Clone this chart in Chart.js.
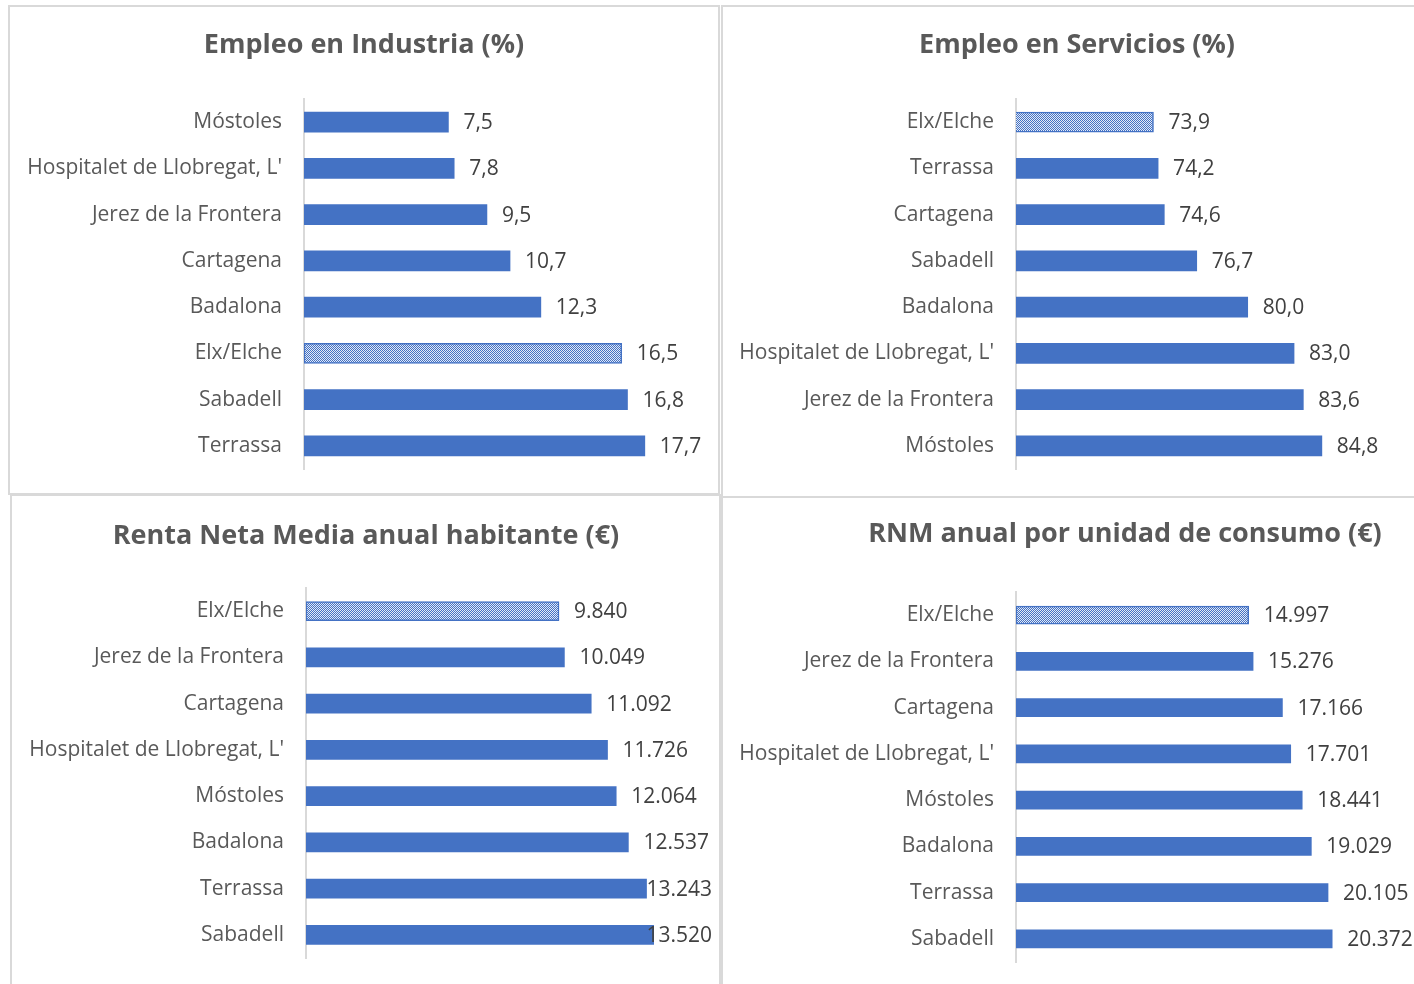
<!DOCTYPE html>
<html>
<head>
<meta charset="utf-8">
<script src="https://cdn.jsdelivr.net/npm/chart.js@4.4.0/dist/chart.umd.min.js"></script>
<style>
  html, body { margin: 0; padding: 0; background: #fff; width: 1414px; height: 984px; overflow: hidden; position: relative; }
  .marco { position: absolute; border: 2px solid #d9d9d9; box-sizing: border-box; }
  canvas { position: absolute; }
</style>
</head>
<body>
<div class="marco" style="left:8px; top:5px; width:712px; height:490px"></div>
<div class="marco" style="left:721px; top:5px; width:720px; height:493px"></div>
<div class="marco" style="left:10px; top:494px; width:711px; height:520px"></div>
<div class="marco" style="left:721px; top:496px; width:720px; height:520px"></div>

<canvas id="industria" width="708" height="484" style="left:10px; top:8px"></canvas>
<canvas id="servicios" width="706" height="484" style="left:724px; top:8px"></canvas>
<canvas id="renta" width="708" height="487" style="left:12px; top:497px"></canvas>
<canvas id="rnm" width="802" height="485" style="left:724px; top:499px"></canvas>

<script>
// datos (de arriba a abajo, como en la imagen)
const ciudadesIndustria = ["Móstoles", "Hospitalet de Llobregat, L'", "Jerez de la Frontera", "Cartagena", "Badalona", "Elx/Elche", "Sabadell", "Terrassa"];
const empleoIndustria = [7.5, 7.8, 9.5, 10.7, 12.3, 16.5, 16.8, 17.7];

const ciudadesServicios = ["Elx/Elche", "Terrassa", "Cartagena", "Sabadell", "Badalona", "Hospitalet de Llobregat, L'", "Jerez de la Frontera", "Móstoles"];
const empleoServicios = [73.9, 74.2, 74.6, 76.7, 80.0, 83.0, 83.6, 84.8];

const ciudadesRenta = ["Elx/Elche", "Jerez de la Frontera", "Cartagena", "Hospitalet de Llobregat, L'", "Móstoles", "Badalona", "Terrassa", "Sabadell"];
const rentaNetaMedia = [9840, 10049, 11092, 11726, 12064, 12537, 13243, 13520];

const ciudadesRnm = ["Elx/Elche", "Jerez de la Frontera", "Cartagena", "Hospitalet de Llobregat, L'", "Móstoles", "Badalona", "Terrassa", "Sabadell"];
const rnmUnidadConsumo = [14997, 15276, 17166, 17701, 18441, 19029, 20105, 20372];


Chart.defaults.font.family = "'Open Sans', sans-serif";

const azul = '#4472C4';

function formatear(v, tipo) {
    if (tipo === 'decimal') {
        return v.toFixed(1).replace('.', ',');
    }
    return String(v).replace(/\B(?=(\d{3})+(?!\d))/g, '.');
}

// etiquetas de valor al final de cada barra
const valoresPlugin = {
    id: 'valores',
    afterDatasetsDraw(chart, args, opts) {
        const ctx = chart.ctx;
        const meta = chart.getDatasetMeta(0);
        const datos = chart.data.datasets[0].data;
        ctx.save();
        ctx.font = "21px 'Open Sans', sans-serif";
        ctx.fillStyle = '#404040';
        ctx.textBaseline = 'middle';
        ctx.textAlign = 'left';
        meta.data.forEach(function (barra, i) {
            const texto = formatear(datos[i], opts.tipo);
            const ancho = ctx.measureText(texto).width;
            let x = barra.x + 15;
            if (x + ancho > opts.limite) x = opts.limite - ancho;
            ctx.fillText(texto, x, barra.y + 1);
        });
        ctx.restore();
    }
};

function crearGrafico(id, titulo, ciudades, valores, aj) {
    const canvas = document.getElementById(id);
    const ctx = canvas.getContext('2d');

    // trama punteada para Elx/Elche
    const tesela = document.createElement('canvas');
    tesela.width = 2;
    tesela.height = 2;
    const t = tesela.getContext('2d');
    t.fillStyle = '#e4ebf7';
    t.fillRect(0, 0, 2, 2);
    t.fillStyle = azul;
    t.fillRect(0, 0, 1, 1);
    t.fillRect(1, 1, 1, 1);
    const trama = ctx.createPattern(tesela, 'repeat');

    return new Chart(ctx, {
        type: 'bar',
        data: {
            labels: ciudades,
            datasets: [{
                data: valores,
                backgroundColor: ciudades.map(c => c === 'Elx/Elche' ? trama : azul),
                borderColor: azul,
                borderWidth: ciudades.map(c => c === 'Elx/Elche' ? 1.5 : 0),
                borderSkipped: false,
                barThickness: aj.grosor
            }]
        },
        options: {
            indexAxis: 'y',
            responsive: false,
            animation: false,
            layout: { padding: aj.padding },
            plugins: {
                legend: { display: false },
                tooltip: { enabled: false },
                title: {
                    display: true,
                    text: titulo,
                    color: '#595959',
                    font: { size: 27, weight: 'bold', lineHeight: 1.2 },
                    padding: aj.tituloPadding
                },
                valores: { tipo: aj.tipo, limite: aj.limite }
            },
            scales: {
                x: { display: false, min: aj.min, max: aj.max },
                y: {
                    grid: { display: false, drawTicks: false },
                    border: { display: true, color: '#d9d9d9', width: 2 },
                    ticks: { color: '#595959', font: { size: 21 }, padding: 22, autoSkip: false },
                    afterFit: function (s) {
                        s.width = aj.yAncho;
                        s.paddingTop = 0;
                        s.paddingBottom = 0;
                    }
                }
            }
        },
        plugins: [valoresPlugin]
    });
}

crearGrafico('industria', 'Empleo en Industria (%)', ciudadesIndustria, empleoIndustria, {
    min: 0, max: 21.5, grosor: 20, tipo: 'decimal', limite: 2000, yAncho: 294,
    padding: { left: 0, right: 0, top: 0, bottom: 23 },
    tituloPadding: { top: 20.8, bottom: 37.8 }
});

crearGrafico('servicios', 'Empleo en Servicios (%)', ciudadesServicios, empleoServicios, {
    min: 65, max: 91.8, grosor: 20, tipo: 'decimal', limite: 2000, yAncho: 292,
    padding: { left: 0, right: 0, top: 0, bottom: 23 },
    tituloPadding: { top: 20.8, bottom: 37.8 }
});

crearGrafico('renta', 'Renta Neta Media anual habitante (€)', ciudadesRenta, rentaNetaMedia, {
    min: 0, max: 16100, grosor: 19, tipo: 'miles', limite: 700, yAncho: 294,
    padding: { left: 0, right: 0, top: 0, bottom: 26 },
    tituloPadding: { top: 22.8, bottom: 35.8 }
});

crearGrafico('rnm', 'RNM anual por unidad de consumo (€)', ciudadesRnm, rnmUnidadConsumo, {
    min: 0, max: 32860, grosor: 18, tipo: 'miles', limite: 2000, yAncho: 292,
    padding: { left: 0, right: 0, top: 0, bottom: 22 },
    tituloPadding: { top: 18.8, bottom: 41.8 }
});
</script>
</body>
</html>
